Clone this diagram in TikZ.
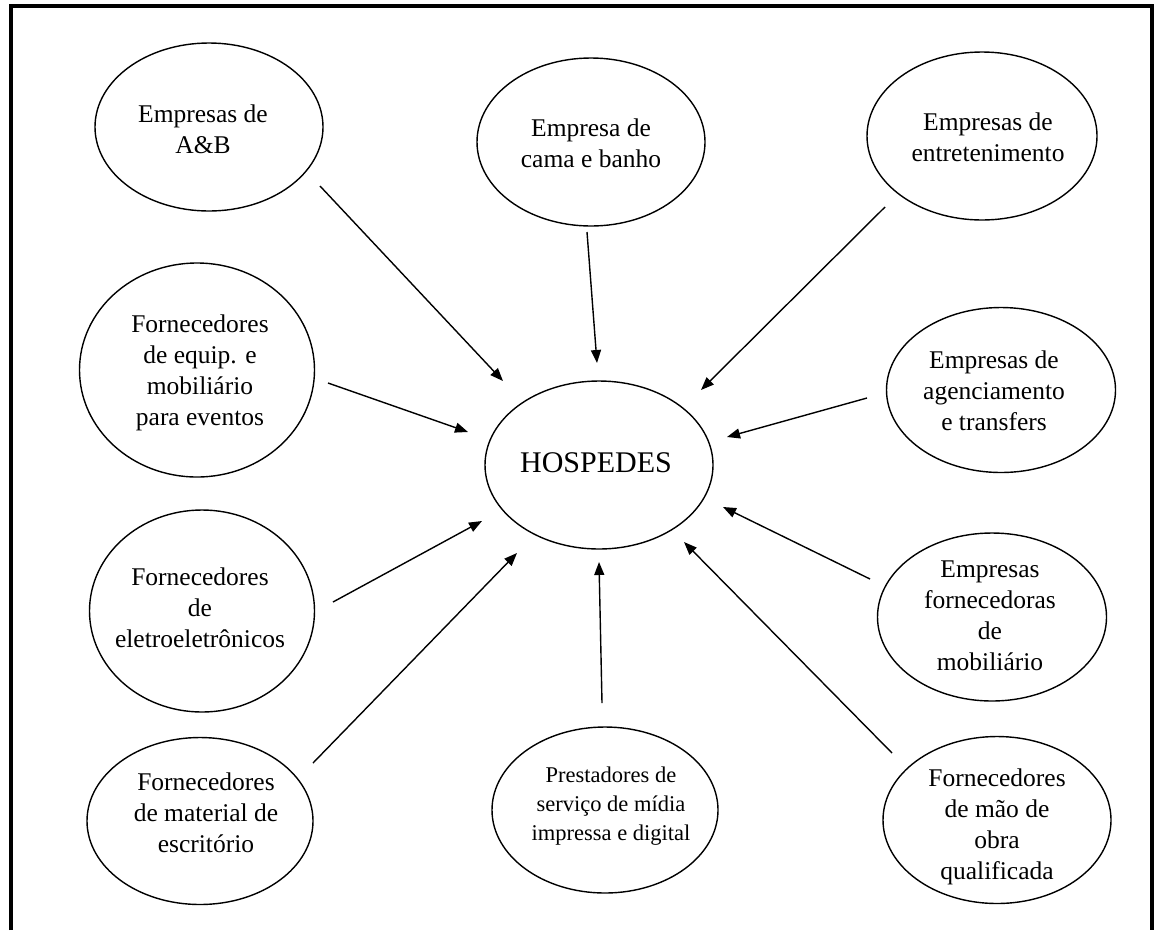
\documentclass[tikz,border=0pt]{standalone}
\usepackage{fontspec}
\setmainfont{Liberation Serif}
\usetikzlibrary{shapes.geometric,arrows.meta}
\begin{document}
\begin{tikzpicture}[x=1pt,y=-1pt,
  bub/.style={draw,ellipse,line width=1.4pt,inner sep=0pt},
  txt/.style={align=center,font=\fontsize{25.5}{31}\selectfont,inner sep=0pt},
  smalltxt/.style={align=center,font=\fontsize{22.5}{29}\selectfont,inner sep=0pt},
  bigtxt/.style={align=center,font=\fontsize{30}{36}\selectfont,inner sep=0pt},
  arr/.style={line width=1.4pt,-{Triangle[length=13pt,width=10pt]}},
  frame/.style={line width=3.5pt}
]
\useasboundingbox (0,0) rectangle (1155,930);
% frame
\coordinate (f1) at (11,930);
\coordinate (f2) at (11,6);
\coordinate (f3) at (1152,6);
\coordinate (f4) at (1152,930);
\draw[frame] (f1) -- (f2) -- (f3) -- (f4);

% ellipses
\node[bub,minimum width=228pt,minimum height=168pt] (ab) at (209,127) {};
\node[bub,minimum width=228pt,minimum height=168pt] (cb) at (591,142) {};
\node[bub,minimum width=230pt,minimum height=168pt] (en) at (982,136) {};
\node[bub,minimum width=235pt,minimum height=214pt] (eq) at (197,370) {};
\node[bub,minimum width=228pt,minimum height=168pt] (ho) at (599,465) {};
\node[bub,minimum width=229pt,minimum height=165pt] (ag) at (1001,390) {};
\node[bub,minimum width=225pt,minimum height=202pt] (el) at (202,611) {};
\node[bub,minimum width=229pt,minimum height=168pt] (mo) at (992,617) {};
\node[bub,minimum width=226pt,minimum height=167pt] (es) at (200,821) {};
\node[bub,minimum width=226pt,minimum height=166pt] (pr) at (605,810) {};
\node[bub,minimum width=228pt,minimum height=167pt] (mq) at (997,820) {};

% texts
\node[txt] (abt) at (203,129) {Empresas de\\A\&B};
\node[txt] (cbt) at (591,143) {Empresa de\\cama e banho};
\node[txt] (ent) at (988,137) {Empresas de\\entretenimento};
\node[txt] (eqt) at (200,373) {Fornecedores\\de equip. e\\mobiliário\\para eventos};
\node[bigtxt] (hot) at (596,463) {HOSPEDES};
\node[txt] (agt) at (994,391) {Empresas de\\agenciamento\\e transfers};
\node[txt] (elt) at (200,608) {Fornecedores\\de\\eletroeletrônicos};
\node[txt] (mot) at (990,616) {Empresas\\fornecedoras\\de\\mobiliário};
\node[txt] (est) at (206,813) {Fornecedores\\de material de\\escritório};
\node[smalltxt] (prt) at (611,806) {Prestadores de\\serviço de mídia\\impressa e digital};
\node[txt] (mqt) at (997,827) {Fornecedores\\de mão de\\obra\\qualificada};

% arrow end points
\coordinate (ab1) at (320,186);  \coordinate (ab2) at (503,381);
\coordinate (cb1) at (587,232);  \coordinate (cb2) at (597,363);
\coordinate (en1) at (885,207);  \coordinate (en2) at (701,390);
\coordinate (eq1) at (328,383);  \coordinate (eq2) at (468,432);
\coordinate (el1) at (333,602);  \coordinate (el2) at (482,521);
\coordinate (es1) at (313,763);  \coordinate (es2) at (517,553);
\coordinate (pr1) at (602,703);  \coordinate (pr2) at (599,562);
\coordinate (mq1) at (892,753);  \coordinate (mq2) at (684,542);
\coordinate (mo1) at (870,579);  \coordinate (mo2) at (723,507);
\coordinate (ag1) at (867,398);  \coordinate (ag2) at (727,437);

\draw[arr] (ab1) -- (ab2);
\draw[arr] (cb1) -- (cb2);
\draw[arr] (en1) -- (en2);
\draw[arr] (eq1) -- (eq2);
\draw[arr] (el1) -- (el2);
\draw[arr] (es1) -- (es2);
\draw[arr] (pr1) -- (pr2);
\draw[arr] (mq1) -- (mq2);
\draw[arr] (mo1) -- (mo2);
\draw[arr] (ag1) -- (ag2);
\end{tikzpicture}
\end{document}
